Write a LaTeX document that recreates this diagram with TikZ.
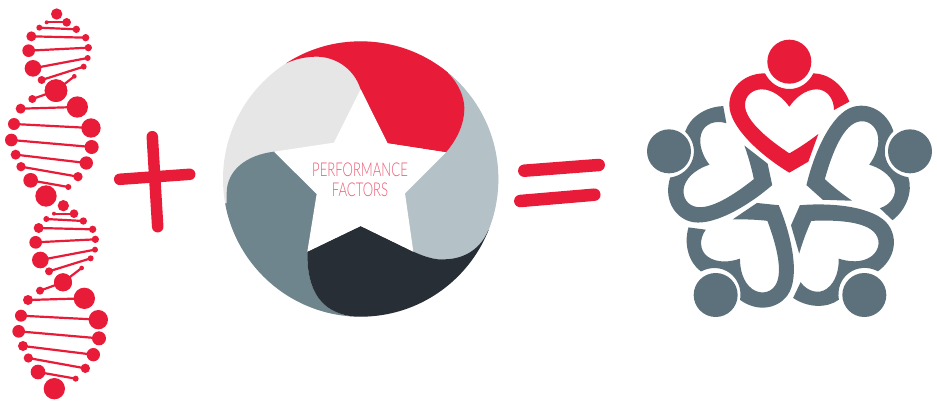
\documentclass[tikz,border=0pt]{standalone}
\usepackage{fontspec}
\newfontfamily\thinfont{Lato Light}
\definecolor{hubred}{HTML}{E81B39}
\definecolor{hubgrey}{HTML}{E6E6E6}
\definecolor{hubblue}{HTML}{B4C1C7}
\definecolor{hubslate}{HTML}{6F858D}
\definecolor{hubdark}{HTML}{272E35}
\definecolor{hubteam}{HTML}{5D717C}
\definecolor{hubtext}{HTML}{EC5A74}
\begin{document}
\begin{tikzpicture}[
  x=1pt, y=-1pt,
  rung/.style={draw=hubred, line width=2.2pt},
  stroke/.style={draw=hubred, line width=11.5pt, line cap=round},
  zoomed/.style={scale=1/3},
]
\useasboundingbox (0,0) rectangle (937,400);

% upper strand
\begin{scope}[zoomed]
  \foreach \xa/\ya/\ra/\xb/\yb/\rb in {200/67/13/140/67/6, 118/83/9/229/88/11, 94/109/15/257/113/11,
      86/152/19/265/143/11, 99/205/25/263/174/9, 125/240/12/251/200/9, 168/272/34/223/229/7,
      168/272/34/97/297/12, 62/326/15/232/321/32, 42/372/18/273/384/29, 34/420/19/275/441/21,
      47/464/15/259/489/20, 63/500/14/234/530/14, 92/541/22/205/561/9} {
    \draw[rung] (\xa,\ya) -- (\xb,\yb);
    \fill[hubred] (\xa,\ya) circle[radius=\ra] (\xb,\yb) circle[radius=\rb];
  }
  \fill[hubred] (170,42) circle[radius=17];
  \fill[hubred] (138,588) circle[radius=32];
\end{scope}
% lower strand
\begin{scope}[shift={(0,200)}, zoomed]
  \foreach \xa/\ya/\ra/\xb/\yb/\rb in {222/41/13/162/41/6, 139/57/9/250/63/11, 116/84/15/278/88/11,
      107/127/19/286/118/11, 121/180/25/285/149/9, 147/214/12/272/175/9, 189/247/27/245/204/7,
      189/247/27/120/272/12, 84/300/15/253/295/32, 63/347/18/295/359/29, 56/394/19/297/415/21,
      69/438/15/280/464/20, 85/474/14/256/505/14, 114/516/22/227/536/9} {
    \draw[rung] (\xa,\ya) -- (\xb,\yb);
    \fill[hubred] (\xa,\ya) circle[radius=\ra] (\xb,\yb) circle[radius=\rb];
  }
  \fill[hubred] (190,17) circle[radius=17];
  \fill[hubred] (163,566) circle[radius=32];
\end{scope}

% plus and equals
\draw[stroke] (152.3,136.7) -- (157.7,226.7);
\draw[stroke] (119.7,179.3) -- (189.7,174.3);
\draw[stroke, line width=12.5pt] (524.3,170.7) -- (598.7,165);
\draw[stroke, line width=12.5pt] (520.3,201) -- (594.3,194.7);

% factors wheel
\begin{scope}[shift={(210,30)}, zoomed]
  \begin{scope}
    \clip (452,447) circle[radius=413];
    \fill[hubgrey] (0,0) rectangle (900,900);
    \fill[hubblue] (715,130) -- (900,130) -- (900,600) -- (835,600)
      .. controls (815,650) and (770,688) .. (700,688)
      .. controls (680,690) and (650,683) .. (610,665) -- (452,447) -- (708,367)
      .. controls (735,335) and (763,290) .. (763,235) -- cycle;
    \fill[hubred] (228,100) -- (228,0) -- (715,0) -- (715,130)
      .. controls (745,160) and (763,200) .. (763,235)
      .. controls (763,290) and (735,335) .. (708,367) -- (533,340) -- (452,178)
      .. controls (430,110) and (370,80) .. (320,80)
      .. controls (285,80) and (255,88) .. (228,100) -- cycle;
    \fill[hubslate] (192,365) .. controls (110,375) and (50,420) .. (50,490) -- (50,520)
      -- (0,520) -- (0,900) -- (420,900) -- (420,858)
      .. controls (340,845) and (290,790) .. (292,665) -- (452,447) -- cycle;
    \fill[hubdark] (292,665) -- (452,588) -- (610,665)
      .. controls (650,683) and (680,690) .. (700,688)
      .. controls (770,688) and (815,650) .. (835,600) -- (900,600) -- (900,900) -- (420,900) -- (420,858)
      .. controls (340,845) and (290,790) .. (292,665) -- cycle;
  \end{scope}
  \fill[white] (452,178) -- (533,340) -- (708,367) -- (585,490) -- (610,665)
    -- (452,588) -- (292,665) -- (320,492) -- (192,365) -- (372,338) -- cycle;
\end{scope}
\node[font=\thinfont\fontsize{19}{20}\selectfont, text=hubtext, align=center, inner sep=0pt, transform shape, xscale=.69]
  (perf) at (360,180) {PERFORMANCE\\FACTORS};

% team of hearts
\begin{scope}[shift={(640,30)}, zoomed]
  \foreach \hx/\hy/\c in {448/95/hubred, 87/364/hubteam, 810/364/hubteam, 227/795/hubteam, 673/795/hubteam}
    \fill[\c] (\hx,\hy) circle[radius=66];
  \foreach \a/\c in {0/hubred, 72/hubteam, 144/hubteam, 216/hubteam, 288/hubteam} {
    \begin{scope}[rotate around={\a:(448,482)}]
      \fill[\c] (628,215) .. controls (610,165) and (565,130) .. (520,130)
        .. controls (505,160) and (478,177) .. (448,177)
        .. controls (418,177) and (390,160) .. (375,130)
        .. controls (310,130) and (268,175) .. (268,225)
        .. controls (268,290) and (360,375) .. (448,428)
        -- (505,395) -- (535,312)
        .. controls (505,335) and (475,355) .. (448,370)
        .. controls (395,335) and (315,275) .. (315,225)
        .. controls (315,195) and (340,178) .. (365,178)
        .. controls (400,178) and (430,205) .. (448,230)
        .. controls (465,205) and (495,178) .. (530,178)
        .. controls (560,178) and (582,205) .. (582,240) -- cycle;
    \end{scope}
  }
\end{scope}
\end{tikzpicture}
\end{document}
